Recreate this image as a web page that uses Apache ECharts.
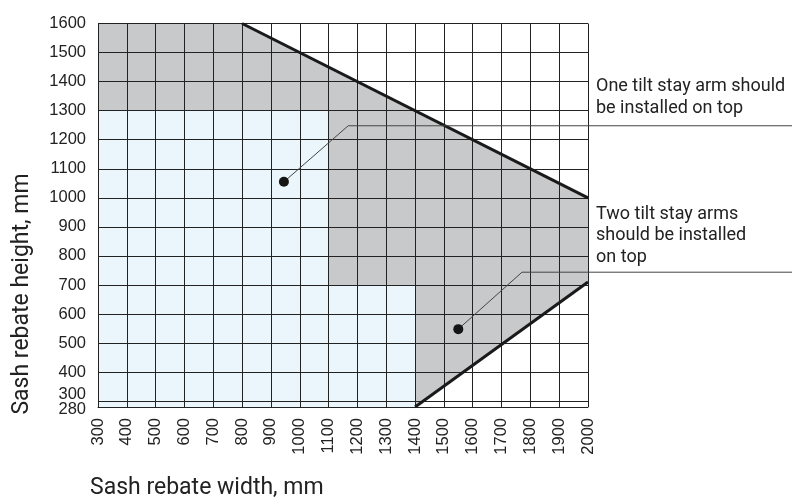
<!DOCTYPE html>
<html>
<head>
<meta charset="utf-8">
<script src="https://cdn.jsdelivr.net/npm/echarts@6/dist/echarts.min.js"></script>
<style>
html,body{margin:0;padding:0;background:#fff;}
#chart{width:792px;height:497px;}
</style>
</head>
<body>
<div id="chart"></div>
<script>
// ---- data ----
const xMin = 300, xMax = 2000, xStep = 100;
const yTicks = [280, 300, 400, 500, 600, 700, 800, 900, 1000, 1100, 1200, 1300, 1400, 1500, 1600];
const yLabelsMain = [280, 400, 500, 600, 700, 800, 900, 1000, 1100, 1200, 1300, 1400, 1500, 1600];
const yLabelsTight = [300];

// grey region (arms needed) polygon vertices
const greyX = [300, 300, 800, 2000, 2000, 1400, 1400, 1100, 1100];
const greyY = [1300, 1600, 1600, 1000, 710, 280, 700, 700, 1300];
// light blue region polygon vertices
const blueX = [300, 300, 1100, 1100, 1400, 1400];
const blueY = [280, 1300, 1300, 700, 700, 280];

// boundary lines
const upperLineX = [800, 2000];
const upperLineY = [1600, 1000];
const lowerLineX = [1400, 2000];
const lowerLineY = [280, 710];

// annotation markers and leader lines
const markerX = [945, 1550];
const markerY = [1055, 548];
const leader1X = [945, 1168, 2720];
const leader1Y = [1055, 1248, 1248];
const leader2X = [1550, 1771, 2720];
const leader2Y = [548, 744, 744];

const annotationTexts = [
  'One tilt stay arm should\nbe installed on top',
  'Two tilt stay arms\nshould be installed\non top'
];
const xTitle = 'Sash rebate width, mm';
const yTitle = 'Sash rebate height, mm';

// ---- helpers ----
const zip = (xs, ys) => xs.map((x, i) => [x, ys[i]]);

function polygonSeries(xs, ys, color) {
  const pts = zip(xs, ys);
  return {
    type: 'custom',
    z: 0,
    silent: true,
    data: pts,
    renderItem: function (params, api) {
      if (params.dataIndex !== 0) return;
      const coords = pts.map(p => api.coord(p));
      return {
        type: 'polygon',
        shape: { points: coords },
        style: { fill: color, stroke: null }
      };
    }
  };
}

function polylineSeries(xs, ys, color, width) {
  const pts = zip(xs, ys);
  return {
    type: 'custom',
    z: 3,
    silent: true,
    clip: false,
    data: pts,
    renderItem: function (params, api) {
      if (params.dataIndex !== 0) return;
      const coords = pts.map(p => api.coord(p));
      return {
        type: 'polyline',
        shape: { points: coords },
        style: { stroke: color, lineWidth: width, fill: null }
      };
    }
  };
}

const chart = echarts.init(document.getElementById('chart'), null, { renderer: 'canvas' });

const labelFont = '"Liberation Sans", Arial, sans-serif';
const textFont = 'Roboto, "Open Sans", sans-serif';

const option = {
  animation: false,
  backgroundColor: '#ffffff',
  grid: { left: 98, right: 204, top: 23.5, bottom: 90, containLabel: false },
  xAxis: {
    type: 'value',
    min: xMin, max: xMax, interval: xStep,
    z: 1,
    axisLine: { show: true, lineStyle: { color: '#222', width: 1 } },
    axisTick: { show: false },
    splitLine: { show: true, lineStyle: { color: '#222', width: 1 } },
    axisLabel: {
      rotate: 90, margin: 11,
      color: '#222', fontSize: 16.5, fontFamily: labelFont,
      formatter: function (v) { return String(v); }
    }
  },
  yAxis: [
    {
      type: 'value',
      min: yTicks[0], max: yTicks[yTicks.length - 1],
      z: 1,
      axisLine: { show: true, lineStyle: { color: '#222', width: 1 } },
      axisTick: { show: false, customValues: yTicks },
      splitLine: { show: true, lineStyle: { color: '#222', width: 1 } },
      axisLabel: {
        customValues: yLabelsMain,
        showMinLabel: true,
        showMaxLabel: true,
        hideOverlap: false,
        margin: 12,
        color: '#222', fontSize: 16.5, fontFamily: labelFont,
        formatter: function (v) {
          if (v === 280) return '{dn|280}';
          return String(v);
        },
        rich: {
          dn: { fontSize: 16.5, fontFamily: labelFont, color: '#222', padding: [5, 0, 0, 0] }
        }
      }
    },
    {
      type: 'value',
      position: 'left',
      min: yTicks[0], max: yTicks[yTicks.length - 1],
      z: 1,
      axisLine: { show: false },
      axisTick: { show: false, customValues: yLabelsTight },
      splitLine: { show: false },
      axisLabel: {
        customValues: yLabelsTight,
        showMinLabel: true,
        showMaxLabel: true,
        hideOverlap: false,
        margin: 12,
        color: '#222', fontSize: 16.5, fontFamily: labelFont,
        formatter: function (v) { return '{up|' + v + '}'; },
        rich: {
          up: { fontSize: 16.5, fontFamily: labelFont, color: '#222', padding: [0, 0, 13, 0] }
        }
      }
    }
  ],
  series: [
    polygonSeries(blueX, blueY, '#eaf6fc'),
    polygonSeries(greyX, greyY, '#c8c9cb'),
    polylineSeries(upperLineX, upperLineY, '#1a1a1a', 3),
    polylineSeries(lowerLineX, lowerLineY, '#1a1a1a', 3),
    polylineSeries(leader1X, leader1Y, '#444', 1),
    polylineSeries(leader2X, leader2Y, '#444', 1),
    {
      type: 'scatter', z: 4, silent: true, symbol: 'circle', symbolSize: 10,
      data: zip(markerX, markerY),
      itemStyle: { color: '#151515', opacity: 1 }
    }
  ],
  graphic: [
    {
      type: 'text', left: 596, top: 76,
      style: { text: annotationTexts[0], fontSize: 18, lineHeight: 21.5, fontFamily: textFont, fill: '#222' }
    },
    {
      type: 'text', left: 596, top: 203.5,
      style: { text: annotationTexts[1], fontSize: 18, lineHeight: 21.5, fontFamily: textFont, fill: '#222' }
    },
    {
      type: 'text', left: 90, top: 477,
      style: { text: xTitle, fontSize: 23, fontFamily: textFont, fill: '#222' }
    },
    {
      type: 'text', x: 22, y: 294, rotation: Math.PI / 2,
      style: { text: yTitle, fontSize: 23, fontFamily: textFont, fill: '#222', align: 'center', verticalAlign: 'middle' }
    }
  ]
};

chart.setOption(option);
</script>
</body>
</html>
